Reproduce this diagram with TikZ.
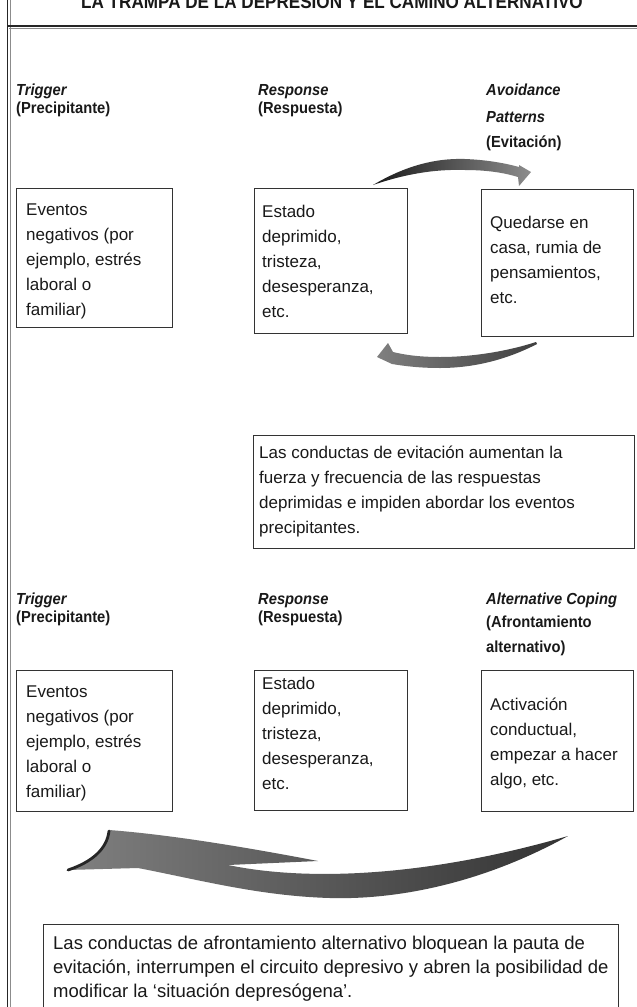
\documentclass[tikz,border=0pt]{standalone}
\usepackage{fontspec}
\setmainfont{Liberation Sans}
\newfontfamily\bodyfam{Liberation Sans}
\newfontfamily\labfam{Liberation Sans}[FakeStretch=0.92]
\newfontfamily\titfam{Liberation Sans}[FakeStretch=0.9]
\newcommand\myBody{\bodyfam\fontsize{17pt}{25pt}\selectfont}
\newcommand\myBigBody{\bodyfam\fontsize{18.5pt}{24pt}\selectfont}
\newcommand\myLab{\labfam\bfseries\fontsize{16pt}{18pt}\selectfont}
\newcommand\myTitle{\titfam\bfseries\fontsize{19pt}{20pt}\selectfont}
\newcommand\myStrut{\rule{0pt}{14pt}}
\newcommand\myLStrut{\rule{0pt}{12pt}}
\begin{document}
\begin{tikzpicture}[x=1pt,y=-1pt,
  cbox/.style={draw=black!80, line width=1.1pt, anchor=north west, inner sep=0pt},
  txt/.style={anchor=north west, inner sep=0pt, align=left, font=\myBody, text=black!90},
  lab/.style={anchor=north west, inner sep=0pt, align=left, font=\myLab, text=black!90}
]
\useasboundingbox (0,0) rectangle (637,1007);
\clip (0,0) rectangle (637,1007);
\fill[white] (0,0) rectangle (637,1007);

% frame
\draw[line width=1.6pt, black!85] (7.5,0) -- (7.5,1007);
\draw[line width=0.8pt, black!45] (10,0) -- (10,1007);
\draw[line width=1.8pt, black!85] (7.5,26) -- (637,26);
\draw[line width=0.8pt, black!45] (9,28.6) -- (637,28.6);

% title (cut by the top edge, as in the reference)
\node[anchor=base, font=\myTitle, text=black!90, inner sep=0pt] (title) at (332,8) {LA TRAMPA DE LA DEPRESIÓN Y EL CAMINO ALTERNATIVO};

% ---------- row 1 labels
\node[lab] (l1a) at (16,83) {\myLStrut\textit{Trigger}\\(Precipitante)};
\node[lab] (l1b) at (258,83) {\myLStrut\textit{Response}\\(Respuesta)};
\node[lab] (l1c) at (486,83) {\myLStrut\textit{Avoidance}\\[9pt]\textit{Patterns}\\[7pt](Evitación)};

% ---------- row 1 boxes
\node[cbox, minimum width=156pt, minimum height=139pt] (A1) at (16,188) {};
\node[cbox, minimum width=153pt, minimum height=145pt] (B1) at (254,188) {};
\node[cbox, minimum width=152pt, minimum height=147pt] (C1) at (481,189) {};
\node[txt] (tA1) at (26,201) {\myStrut Eventos\\negativos (por\\ejemplo, estrés\\laboral o\\familiar)};
\node[txt] (tB1) at (262,203) {\myStrut Estado\\deprimido,\\tristeza,\\desesperanza,\\etc.};
\node[txt] (tC1) at (490,214) {\myStrut Quedarse en\\casa, rumia de\\pensamientos,\\etc.};

% ---------- row 1 arrows
\shade[left color=black!90, middle color=black!80, right color=black!45]
  (373,185) .. controls (405,166) and (435,158) .. (465,159)
  .. controls (490,160) and (508,164) .. (519,167)
  -- (519,165) -- (531,172) -- (519,186) -- (518,177)
  .. controls (505,173) and (488,170) .. (465,170)
  .. controls (435,169) and (405,174) .. (373,185) -- cycle;
\shade[left color=black!50, middle color=black!88, right color=black!75]
  (536,342) .. controls (505,352) and (470,357) .. (440,357)
  .. controls (420,357) and (405,355) .. (393,352)
  -- (388,343) -- (377,357) -- (392,364)
  .. controls (410,367) and (425,368) .. (440,368)
  .. controls (475,368) and (508,359) .. (537,344) -- cycle;

% ---------- middle text box
\node[cbox, minimum width=381pt, minimum height=113pt] (D) at (253,435) {};
\node[txt] (tD) at (259,444) {\myStrut Las conductas de evitación aumentan la\\fuerza y frecuencia de las respuestas\\deprimidas e impiden abordar los eventos\\precipitantes.};

% ---------- row 2 labels
\node[lab] (l2a) at (16,592) {\myLStrut\textit{Trigger}\\(Precipitante)};
\node[lab] (l2b) at (258,592) {\myLStrut\textit{Response}\\(Respuesta)};
\node[lab] (l2c) at (486,592) {\myLStrut\textit{Alternative Coping}\\[5pt](Afrontamiento\\[7pt]alternativo)};

% ---------- row 2 boxes
\node[cbox, minimum width=156pt, minimum height=141pt] (A2) at (16,670) {};
\node[cbox, minimum width=153pt, minimum height=140pt] (B2) at (254,670) {};
\node[cbox, minimum width=152pt, minimum height=141pt] (C2) at (481,670) {};
\node[txt] (tA2) at (26,683) {\myStrut Eventos\\negativos (por\\ejemplo, estrés\\laboral o\\familiar)};
\node[txt] (tB2) at (262,675) {\myStrut Estado\\deprimido,\\tristeza,\\desesperanza,\\etc.};
\node[txt] (tC2) at (490,696) {\myStrut Activación\\conductual,\\empezar a hacer\\algo, etc.};

% ---------- big arrow
\shade[left color=black!50, middle color=black!88, right color=black!80]
  (67,870) .. controls (92,862) and (107,849) .. (109,830)
  .. controls (175,835) and (255,849) .. (318,861)
  -- (228,865)
  .. controls (310,882) and (430,876) .. (568,836)
  .. controls (485,882) and (400,900) .. (330,898)
  .. controls (260,896) and (200,880) .. (138,868)
  -- cycle;
\draw[black!85, line width=2.8pt, line cap=round] (68,870) .. controls (92,862) and (107,849) .. (109,831);

% ---------- bottom text box
\node[cbox, minimum width=575pt, minimum height=110pt] (E) at (43,924) {};
\node[txt, font=\myBigBody] (tE) at (53,935) {\myStrut Las conductas de afrontamiento alternativo bloquean la pauta de\\evitación, interrumpen el circuito depresivo y abren la posibilidad de\\modificar la ‘situación depresógena’.};
\end{tikzpicture}
\end{document}
